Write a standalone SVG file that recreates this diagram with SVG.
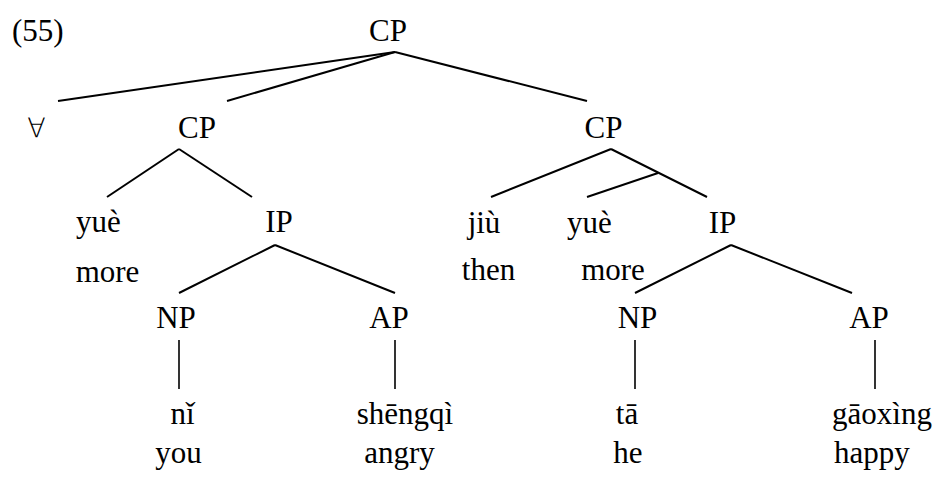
<svg xmlns="http://www.w3.org/2000/svg" width="934" height="478" viewBox="0 0 934 478">
<style>
text{font-family:"Liberation Serif","DejaVu Serif",serif;font-size:31px;fill:#000;text-anchor:middle}
.st{text-anchor:start}
.sym{font-family:"DejaVu Sans",sans-serif;font-weight:200;font-size:27px}
#connectors line{stroke:#000;stroke-width:2;stroke-linecap:butt}
#connectors line.v{stroke-width:1.6}
</style>
<rect width="934" height="478" fill="#fff"/>
<text class="st" x="12" y="41">(55)</text>
<g id="connectors">
<line x1="395" y1="52" x2="58" y2="101"/>
<line x1="395" y1="52" x2="227" y2="101"/>
<line x1="395" y1="52" x2="587" y2="101"/>
<line x1="179" y1="149" x2="107" y2="197"/>
<line x1="179" y1="149" x2="252" y2="197"/>
<line x1="611" y1="149" x2="491" y2="197"/>
<line x1="611" y1="149" x2="707" y2="197"/>
<line x1="658" y1="173" x2="587" y2="197"/>
<line x1="275" y1="245" x2="179" y2="293"/>
<line x1="275" y1="245" x2="395" y2="293"/>
<line x1="731" y1="245" x2="635" y2="293"/>
<line x1="731" y1="245" x2="852" y2="293"/>
<line class="v" x1="179" y1="340" x2="179" y2="389"/>
<line class="v" x1="395" y1="340" x2="395" y2="389"/>
<line class="v" x1="635" y1="340" x2="635" y2="389"/>
<line class="v" x1="875" y1="340" x2="875" y2="389"/>
</g>
<g id="cp-root"><text x="388" y="41">CP</text></g>
<g id="forall"><text class="sym" x="36.5" y="137">∀</text></g>
<g id="cp-left"><text x="197" y="138">CP</text></g>
<g id="yue-left"><text x="98.5" y="232">yuè</text><text x="107.5" y="282">more</text></g>
<g id="ip-left"><text x="279" y="232">IP</text></g>
<g id="cp-right"><text x="603.5" y="138">CP</text></g>
<g id="jiu"><text x="484" y="233">jiù</text><text x="488.5" y="280">then</text></g>
<g id="yue-right"><text x="589.5" y="233">yuè</text><text x="613" y="280">more</text></g>
<g id="ip-right"><text x="722.5" y="233">IP</text></g>
<g id="np-left"><text x="176" y="328">NP</text></g>
<g id="ap-left"><text x="389" y="328">AP</text></g>
<g id="np-right"><text x="637.5" y="328">NP</text></g>
<g id="ap-right"><text x="869" y="328">AP</text></g>
<g id="ni"><text x="182.5" y="424">nǐ</text><text x="178.5" y="463">you</text></g>
<g id="shengqi"><text x="405" y="424">shēngqì</text><text x="399.5" y="463">angry</text></g>
<g id="ta"><text x="627" y="424">tā</text><text x="628" y="463">he</text></g>
<g id="gaoxing"><text x="882" y="424">gāoxìng</text><text x="872" y="463">happy</text></g>
</svg>
